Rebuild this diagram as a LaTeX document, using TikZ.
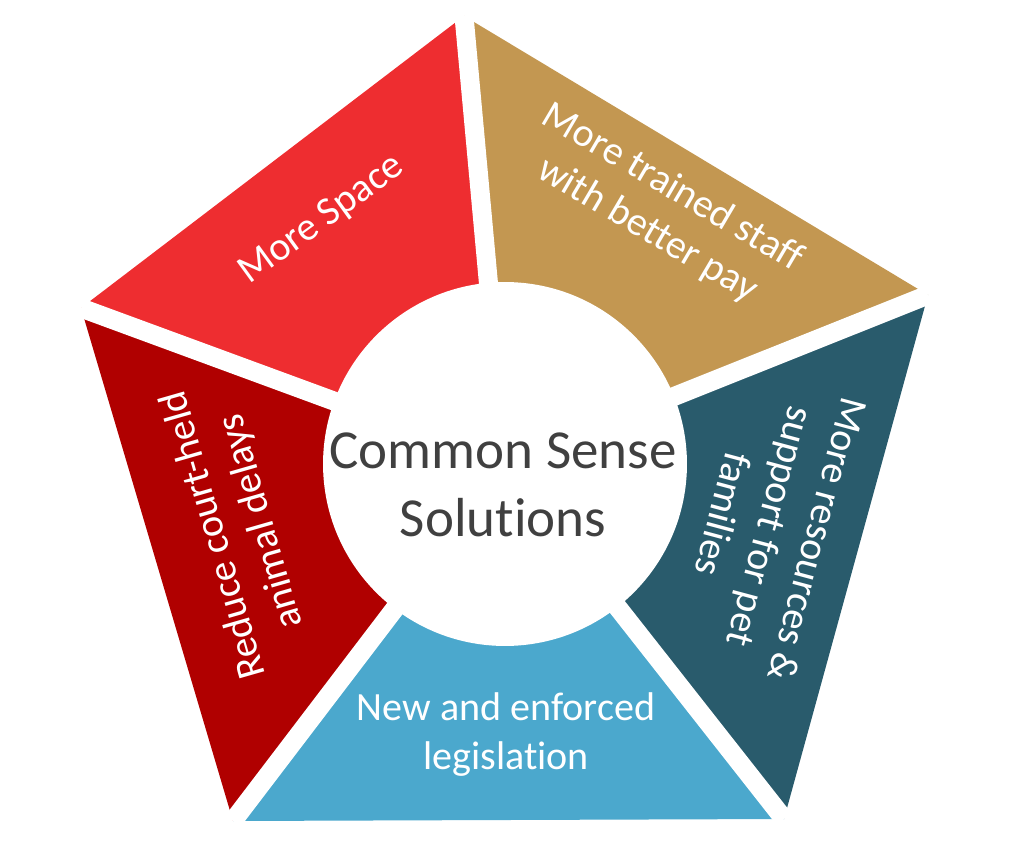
\documentclass[tikz,border=0pt]{standalone}
\usepackage{fontspec}
\setmainfont{Carlito}[Ligatures={NoCommon,NoContextual}]

\definecolor{spacered}{HTML}{EE2D30}
\definecolor{staffgold}{HTML}{C39751}
\definecolor{petteal}{HTML}{295B6C}
\definecolor{lawblue}{HTML}{4BA8CD}
\definecolor{courtred}{HTML}{B00000}
\definecolor{centergray}{HTML}{404040}

\begin{document}
\begin{tikzpicture}[x=0.02cm,y=-0.02cm,
    label/.style={text=white,align=center,font=\fontsize{22.8}{27.9}\selectfont},
    gap/.style={white,line width=0.38cm}]
        \useasboundingbox (0,0) rectangle (1010,861);

        \coordinate (o) at (505,464);
        \coordinate (t) at (464,16);
        \coordinate (r) at (928,295);
        \coordinate (br) at (784,819);
        \coordinate (bl) at (233,821);
        \coordinate (l) at (81,308);

        \fill[spacered] (o) -- (l) -- (t) -- cycle;
        \fill[staffgold] (o) -- (t) -- (r) -- cycle;
        \fill[petteal] (o) -- (r) -- (br) -- cycle;
        \fill[lawblue] (o) -- (br) -- (bl) -- cycle;
        \fill[courtred] (o) -- (bl) -- (l) -- cycle;

        \draw[gap] (o) -- (t);
        \draw[gap] (o) -- (r);
        \draw[gap] (o) -- (br);
        \draw[gap] (o) -- (bl);
        \draw[gap] (o) -- (l);
        \fill[white] (o) circle (3.64cm);

        \node[label,rotate=36] (space) at (322,220) {More Space};
        \node[label,rotate=-30.5] (staff) at (660,209) {More trained staff\\with better pay};
        \node[label,rotate=-105] (pet) at (771,527) {More resources \&\\support for pet\\families};
        \node[label] (law) at (506,735) {New and enforced\\legislation};
        \node[label,rotate=106] (court) at (238,528) {Reduce court-held\\animal delays};
        \node[text=centergray,align=center,font=\fontsize{31.3}{38.7}\selectfont] (title) at (503,485) {Common Sense\\Solutions};
\end{tikzpicture}
\end{document}
